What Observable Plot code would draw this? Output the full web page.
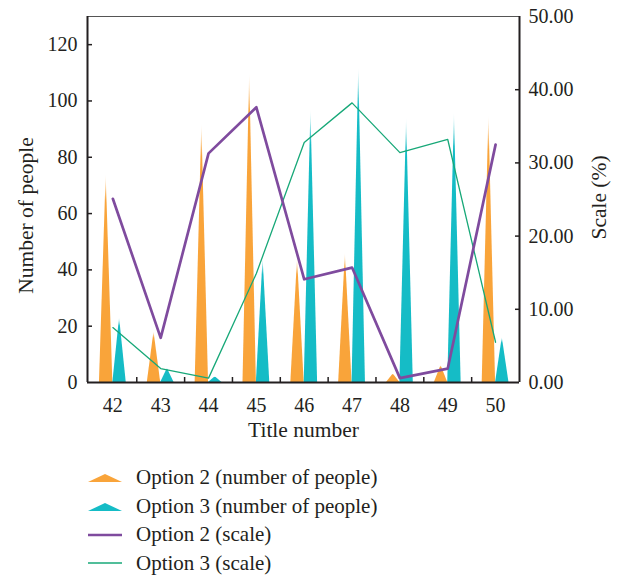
<!DOCTYPE html>
<html>
<head>
<meta charset="utf-8">
<script src="https://cdn.jsdelivr.net/npm/d3@7"></script>
<script src="https://cdn.jsdelivr.net/npm/@observablehq/plot@0.6"></script>
<style>
  body { margin: 0; background: #fff; }
  #chart { width: 618px; font-family: "Liberation Serif", "DejaVu Serif", serif; color: #231f20; }
  .legend { margin-left: 88px; margin-top: 13px; }
  .legend .row { display: flex; align-items: center; height: 28.7px; font-size: 21px; }
  .legend svg { margin-right: 13px; }
</style>
</head>
<body>
<div id="chart"></div>
<script>
// ---- data ----
const titles = [42, 43, 44, 45, 46, 47, 48, 49, 50];
const opt2People = [74, 18, 92, 110, 44, 46, 3, 6, 95];
const opt3People = [23, 5, 2, 44, 97, 112, 94, 96, 16];
const opt2Scale = [25.1, 6.1, 31.3, 37.6, 14.1, 15.7, 0.6, 1.9, 32.5];
const opt3Scale = [7.5, 1.9, 0.6, 14.9, 32.8, 38.2, 31.4, 33.2, 5.5];
const leftTicks = [0, 20, 40, 60, 80, 100, 120];
const rightTicks = [0, 10, 20, 30, 40, 50];
const seriesNames = ["Option 2 (number of people)", "Option 3 (number of people)", "Option 2 (scale)", "Option 3 (scale)"];
const axisTitles = {x: "Title number", left: "Number of people", right: "Scale (%)"};
const colors = ["#f9a43a", "#15bcc6", "#7f4b9e", "#17a878"];

const leftMax = 130, rightMax = 50, k = leftMax / rightMax;
const xMin = 41.47, xMax = 50.5;
const spikeW = 0.28;

// spikes as triangles (base on 0, apex at value)
const spikes = [];
titles.forEach((t, i) => {
  spikes.push({s: 0, key: "o" + t, x: t - spikeW, y: 0}, {s: 0, key: "o" + t, x: t - spikeW / 2, y: opt2People[i]}, {s: 0, key: "o" + t, x: t, y: 0});
  spikes.push({s: 1, key: "t" + t, x: t, y: 0}, {s: 1, key: "t" + t, x: t + spikeW / 2, y: opt3People[i]}, {s: 1, key: "t" + t, x: t + spikeW, y: 0});
});
const line2 = titles.map((t, i) => ({x: t, y: opt2Scale[i] * k}));
const line3 = titles.map((t, i) => ({x: t, y: opt3Scale[i] * k}));
const boundaries = titles.slice(0, -1).map(t => t + 0.5);

const ink = "#231f20";
const titleSize = 21.5;
const plot = Plot.plot({
  width: 618,
  height: 450,
  marginLeft: 87,
  marginRight: 99,
  marginTop: 16,
  marginBottom: 68,
  style: {fontFamily: "'Liberation Serif', 'DejaVu Serif', serif", fontSize: "20px", color: ink, background: "#fff"},
  x: {domain: [xMin, xMax]},
  y: {domain: [0, leftMax]},
  marks: [
    Plot.areaY(spikes.filter(d => d.s === 0), {x: "x", y: "y", z: "key", fill: "url(#gradO)"}),
    Plot.areaY(spikes.filter(d => d.s === 1), {x: "x", y: "y", z: "key", fill: "url(#gradT)"}),
    Plot.line(line3, {x: "x", y: "y", stroke: colors[3], strokeWidth: 1.3}),
    Plot.line(line2, {x: "x", y: "y", stroke: colors[2], strokeWidth: 2.7}),
    Plot.ruleY([leftMax], {stroke: "#555", strokeWidth: 1}),
    Plot.ruleY([0], {stroke: ink, strokeWidth: 2}),
    Plot.ruleX([xMin], {stroke: ink, strokeWidth: 2}),
    Plot.ruleX([xMax], {stroke: ink, strokeWidth: 2}),
    Plot.axisY(leftTicks, {anchor: "left", tickSize: 0, tickPadding: 10, label: null}),
    Plot.axisY(leftTicks.filter(d => d > 0), {anchor: "left", tickSize: -5, text: null, label: null, stroke: ink, strokeWidth: 1.5}),
    Plot.axisY(rightTicks.map(d => d * k), {anchor: "right", tickSize: 0, tickPadding: 9, tickFormat: d => (d / k).toFixed(2), label: null}),
    Plot.axisY(rightTicks.filter(d => d > 0 && d < 50).map(d => d * k), {anchor: "right", tickSize: -5, text: null, label: null, stroke: ink, strokeWidth: 1.5}),
    Plot.axisX(titles, {anchor: "bottom", tickSize: 0, tickPadding: 15, label: null}),
    Plot.axisX(boundaries, {anchor: "bottom", tickSize: -5, text: null, label: null, stroke: ink, strokeWidth: 1.5}),
    Plot.text([axisTitles.left], {frameAnchor: "left", textAnchor: "middle", dx: -61, dy: 16, rotate: -90, fontSize: titleSize, fill: ink}),
    Plot.text([axisTitles.right], {frameAnchor: "right", textAnchor: "middle", dx: 80, dy: -2, rotate: -90, fontSize: titleSize, fill: ink}),
    Plot.text([axisTitles.x], {frameAnchor: "bottom", dy: 54, fontSize: titleSize, fill: ink})
  ]
});

// gradient definitions for the fading spike tips
const ns = "http://www.w3.org/2000/svg";
const defs = document.createElementNS(ns, "defs");
[["gradO", colors[0]], ["gradT", colors[1]]].forEach(([id, c]) => {
  const g = document.createElementNS(ns, "linearGradient");
  g.setAttribute("id", id);
  g.setAttribute("x1", "0"); g.setAttribute("y1", "0");
  g.setAttribute("x2", "0"); g.setAttribute("y2", "1");
  [[0, 0], [0.13, 1], [1, 1]].forEach(([o, op]) => {
    const s = document.createElementNS(ns, "stop");
    s.setAttribute("offset", o);
    s.setAttribute("stop-color", c);
    s.setAttribute("stop-opacity", op);
    g.appendChild(s);
  });
  defs.appendChild(g);
});
plot.insertBefore(defs, plot.firstChild);

const root = document.getElementById("chart");
root.appendChild(plot);

// legend
const legend = document.createElement("div");
legend.className = "legend";
seriesNames.forEach((name, i) => {
  const row = document.createElement("div");
  row.className = "row";
  let sym;
  if (i < 2) {
    sym = `<svg width="35" height="12"><polygon points="0,11 17,3 34,11" fill="${colors[i]}"/></svg>`;
  } else {
    sym = `<svg width="35" height="12"><line x1="0" y1="6" x2="34" y2="6" stroke="${colors[i]}" stroke-width="${i === 2 ? 2.6 : 1.3}"/></svg>`;
  }
  row.innerHTML = sym + `<span>${name}</span>`;
  legend.appendChild(row);
});
root.appendChild(legend);
</script>
</body>
</html>
